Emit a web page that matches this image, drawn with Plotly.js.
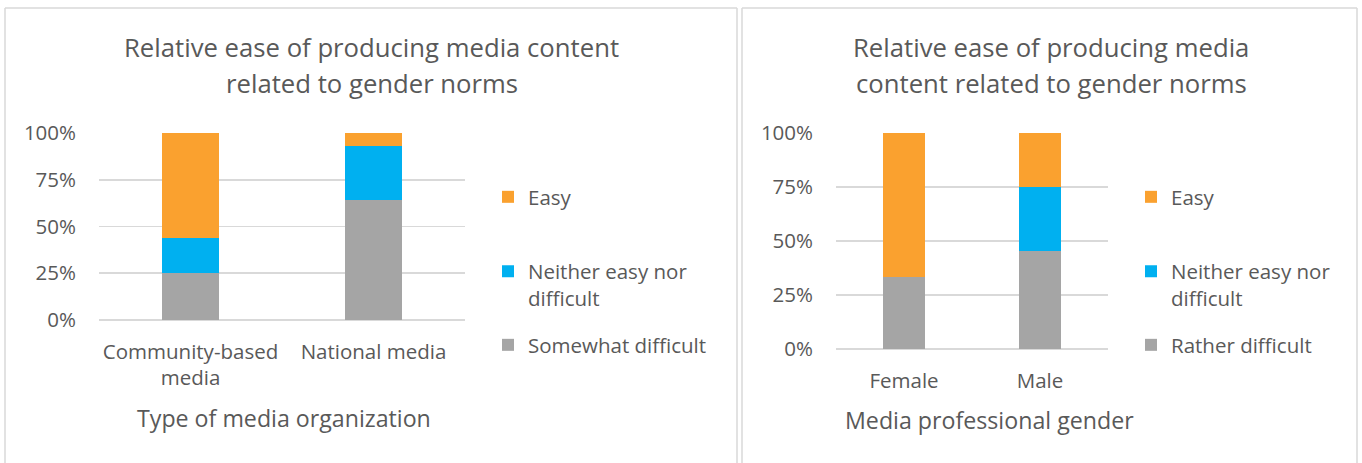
<!DOCTYPE html>
<html><head><meta charset="utf-8">
<script src="https://cdn.plot.ly/plotly-3.0.1.min.js"></script>
<style>html,body{margin:0;padding:0;background:#fff;overflow:hidden}</style>
</head><body><div id="chart" style="width:1362px;height:463px"></div>
<script>
// ---- data ----
const orgCategories = ['Community-based<br>media', 'National media'];
const orgSomewhatDifficult = [0.25, 0.643];
const orgNeither = [0.1875, 0.286];
const orgEasy = [0.5625, 0.071];

const genderCategories = ['Female', 'Male'];
const genderRatherDifficult = [0.333, 0.454];
const genderNeither = [0, 0.296];
const genderEasy = [0.667, 0.25];

const seriesNames = ['Easy', 'Neither easy nor<br>difficult'];
const orgLowName = 'Somewhat difficult';
const genderLowName = 'Rather difficult';

const yTickValues = [0, 0.25, 0.5, 0.75, 1];
const yTickLabels = ['0%', '25%', '50%', '75%', '100%'];

const chartTitleLeft = ['Relative ease of producing media content', 'related to gender norms'];
const chartTitleRight = ['Relative ease of producing media', 'content related to gender norms'];
const axisTitleLeft = 'Type of media organization';
const axisTitleRight = 'Media professional gender';

// ---- styling ----
const W = 1362, H = 463;
const px = v => v / W;
const py = v => 1 - v / H;
const FONT = '"Open Sans", "Noto Sans", sans-serif';
const TXT = '#595959';
const GRID = '#d9d9d9';
const C_EASY = '#FAA12F', C_NEITHER = '#00B0F0', C_DIFF = '#A5A5A5';

function bar(x, y, name, color, xa, ya, legend) {
  return {type: 'bar', x: x, y: y, name: name, xaxis: xa, yaxis: ya, legend: legend,
    marker: {color: color, line: {width: 0}}, hoverinfo: 'skip', showlegend: true};
}

const data = [
  bar(orgCategories, orgSomewhatDifficult, orgLowName, C_DIFF, 'x', 'y', 'legend3'),
  bar(orgCategories, orgNeither, seriesNames[1], C_NEITHER, 'x', 'y', 'legend2'),
  bar(orgCategories, orgEasy, seriesNames[0], C_EASY, 'x', 'y', 'legend'),
  bar(genderCategories, genderRatherDifficult, genderLowName, C_DIFF, 'x2', 'y2', 'legend6'),
  bar(genderCategories, genderNeither, seriesNames[1], C_NEITHER, 'x2', 'y2', 'legend5'),
  bar(genderCategories, genderEasy, seriesNames[0], C_EASY, 'x2', 'y2', 'legend4'),
];

const tickFont = {family: FONT, size: 20.5, color: TXT};
function xAxis(d0, d1, anchor) {
  return {domain: [px(d0), px(d1)], anchor: anchor, showgrid: false, zeroline: false,
    showline: false, ticks: '', tickfont: tickFont, ticklabelstandoff: 17, fixedrange: true};
}
function yAxis(top, bottom, anchor) {
  return {domain: [py(bottom), py(top)], anchor: anchor, range: [0, 1],
    tickvals: yTickValues, ticktext: yTickLabels, showgrid: true, gridcolor: GRID, gridwidth: 1.8,
    zeroline: true, zerolinecolor: GRID, zerolinewidth: 1.8, showline: false, ticks: '',
    tickfont: tickFont, ticklabelstandoff: 22, fixedrange: true};
}
function legendAt(xLeft, yCenter) {
  return {x: px(xLeft), xanchor: 'left', y: py(yCenter), yanchor: 'middle',
    bgcolor: 'rgba(0,0,0,0)', borderwidth: 0, valign: 'top',
    font: {family: FONT, size: 20.5, color: TXT}};
}
function ann(text, x, y, size) {
  return {text: text, xref: 'paper', yref: 'paper', x: px(x), y: py(y),
    xanchor: 'center', yanchor: 'middle', showarrow: false,
    font: {family: FONT, size: size, color: TXT}};
}
function border(x0, x1, top) {
  const s = {type: 'line', xref: 'paper', yref: 'paper', line: {color: GRID, width: 1.5}};
  return [
    Object.assign({}, s, {x0: px(x0), x1: px(x1), y0: py(top), y1: py(top)}),
    Object.assign({}, s, {x0: px(x0), x1: px(x0), y0: py(top), y1: -0.05}),
    Object.assign({}, s, {x0: px(x1), x1: px(x1), y0: py(top), y1: -0.05}),
  ];
}

const layout = {
  width: W, height: H, margin: {l: 0, r: 0, t: 0, b: 0},
  paper_bgcolor: '#fff', plot_bgcolor: 'rgba(0,0,0,0)',
  barmode: 'stack', bargap: 0.69,
  font: {family: FONT, color: TXT},
  xaxis: xAxis(99, 465, 'y'),
  yaxis: yAxis(133, 320, 'x'),
  xaxis2: xAxis(836, 1108, 'y2'),
  yaxis2: yAxis(133, 349.3, 'x2'),
  legend: legendAt(488, 197),
  legend2: legendAt(488, 285),
  legend3: legendAt(488, 345),
  legend4: legendAt(1131, 197),
  legend5: legendAt(1131, 285),
  legend6: legendAt(1131, 345),
  annotations: [
    ann(chartTitleLeft[0], 371.5, 48, 25.7),
    ann(chartTitleLeft[1], 371.5, 84, 25.7),
    ann(chartTitleRight[0], 1051, 48, 25.7),
    ann(chartTitleRight[1], 1051, 84, 25.7),
    ann(axisTitleLeft, 283.5, 418, 23.2),
    ann(axisTitleRight, 989, 420, 23.2),
  ],
  shapes: [].concat(border(5, 737, 8), border(742, 1357, 8)),
};

Plotly.newPlot('chart', data, layout, {staticPlot: true, displayModeBar: false});
</script></body></html>
